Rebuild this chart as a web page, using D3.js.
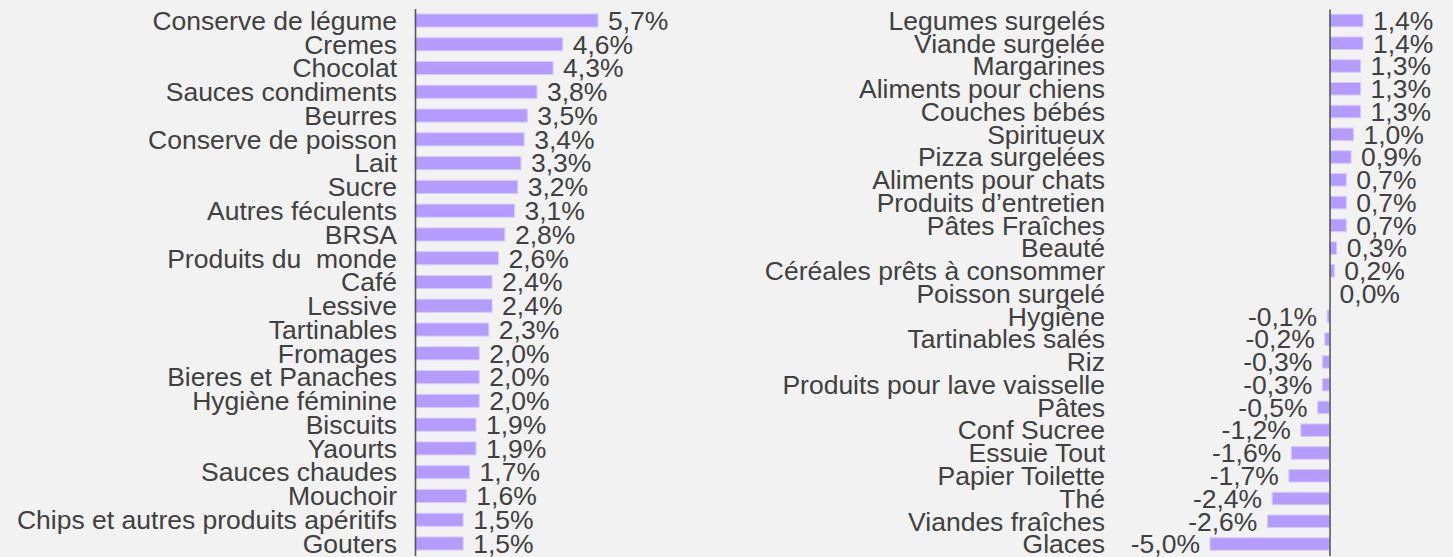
<!DOCTYPE html>
<html>
<head>
<meta charset="utf-8">
<style>
  body { margin: 0; background: #f2f2f2; }
  svg { display: block; }
  .lbl, .val { font-family: "Liberation Sans", Arial, sans-serif; font-size: 26.5px; fill: #404040; white-space: pre; }
  .axis path { stroke: #595959; stroke-width: 1.6px; }
</style>
</head>
<body>
<svg width="1453" height="557"></svg>
<script src="https://cdnjs.cloudflare.com/ajax/libs/d3/7.8.5/d3.min.js"></script>
<script>

// left panel data
var leftCats = ["Conserve de légume", "Cremes", "Chocolat", "Sauces condiments", "Beurres",
  "Conserve de poisson", "Lait", "Sucre", "Autres féculents", "BRSA", "Produits du  monde",
  "Café", "Lessive", "Tartinables", "Fromages", "Bieres et Panaches", "Hygiène féminine",
  "Biscuits", "Yaourts", "Sauces chaudes", "Mouchoir", "Chips et autres produits apéritifs", "Gouters"];
var leftVals = [5.7, 4.6, 4.3, 3.8, 3.5, 3.4, 3.3, 3.2, 3.1, 2.8, 2.6, 2.4, 2.4, 2.3,
  2.0, 2.0, 2.0, 1.9, 1.9, 1.7, 1.6, 1.5, 1.5];

// right panel data
var rightCats = ["Legumes surgelés", "Viande surgelée", "Margarines", "Aliments pour chiens",
  "Couches bébés", "Spiritueux", "Pizza surgelées", "Aliments pour chats", "Produits d\u2019entretien",
  "Pâtes Fraîches", "Beauté", "Céréales prêts à consommer", "Poisson surgelé", "Hygiène",
  "Tartinables salés", "Riz", "Produits pour lave vaisselle", "Pâtes", "Conf Sucree",
  "Essuie Tout", "Papier Toilette", "Thé", "Viandes fraîches", "Glaces"];
var rightVals = [1.4, 1.4, 1.3, 1.3, 1.3, 1.0, 0.9, 0.7, 0.7, 0.7, 0.3, 0.2, 0.0, -0.1,
  -0.2, -0.3, -0.3, -0.5, -1.2, -1.6, -1.7, -2.4, -2.6, -5.0];

var svg = d3.select("svg");
var fmt = function(v) { return d3.format(".1f")(v).replace(".", ",").replace("\u2212", "-") + "%"; };

function panel(cats, vals, x, yRange, labelX) {
  var data = cats.map(function(c, i) { return {cat: c, val: vals[i]}; });
  var y = d3.scaleBand().domain(cats).range(yRange).paddingInner(0.45).paddingOuter(0.225);
  var g = svg.append("g");

  g.selectAll("rect")
    .data(data)
    .enter().append("rect")
      .attr("x", function(d) { return Math.min(x(0), x(d.val)); })
      .attr("y", function(d) { return y(d.cat); })
      .attr("width", function(d) { return Math.abs(x(d.val) - x(0)); })
      .attr("height", y.bandwidth())
      .attr("fill", "#b49bff")
      .attr("stroke", "#d6caff")
      .attr("stroke-width", 1);

  g.append("g")
    .attr("class", "axis")
    .attr("transform", "translate(" + x(0) + ",0)")
    .call(d3.axisLeft(y).tickSize(0).tickFormat(""));

  g.selectAll(".lbl")
    .data(data)
    .enter().append("text")
      .attr("class", "lbl")
      .attr("x", labelX)
      .attr("y", function(d) { return y(d.cat) + y.bandwidth() / 2; })
      .attr("dy", "0.35em")
      .attr("text-anchor", "end")
      .text(function(d) { return d.cat; });

  g.selectAll(".val")
    .data(data)
    .enter().append("text")
      .attr("class", "val")
      .attr("x", function(d) { return d.val < 0 ? x(d.val) - 10 : x(d.val) + 10; })
      .attr("y", function(d) { return y(d.cat) + y.bandwidth() / 2; })
      .attr("dy", "0.35em")
      .attr("text-anchor", function(d) { return d.val < 0 ? "end" : "start"; })
      .text(function(d) { return fmt(d.val); });
}

var xLeft = d3.scaleLinear().domain([0, 5.7]).range([415, 598]);
var xRight = d3.scaleLinear().domain([-5, 1.4]).range([1210, 1363]);

panel(leftCats, leftVals, xLeft, [8.6, 555.4], 397);
panel(rightCats, rightVals, xRight, [9.1, 555.4], 1105);

</script>
</body>
</html>
